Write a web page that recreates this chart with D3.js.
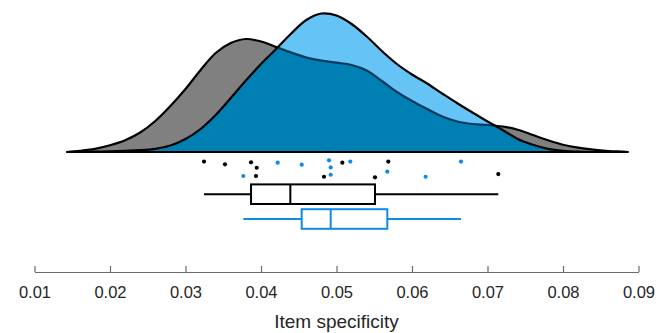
<!DOCTYPE html>
<html>
<head>
<meta charset="utf-8">
<script src="https://cdn.jsdelivr.net/npm/d3@7"></script>
<style>
	body { margin: 0; background: #fff; }
	svg { display: block; }
</style>
</head>
<body>
<svg id="chart"></svg>
<script>
// density grid (item specificity) and the two density curves
const gridGray = [0.0143, 0.016, 0.018, 0.020, 0.022, 0.024, 0.026, 0.028, 0.030, 0.032, 0.034, 0.036, 0.038, 0.040,
	0.042, 0.044, 0.046, 0.048, 0.050, 0.052, 0.054, 0.056, 0.058, 0.060, 0.062, 0.064, 0.066, 0.068, 0.070,
	0.072, 0.074, 0.076, 0.078, 0.080, 0.082, 0.084, 0.086, 0.088, 0.0886];
const densityGray = [0, 1.2, 3.2, 6.8, 11.8, 19.5, 31, 46, 63, 82, 99, 109, 113, 110.5,
	105, 99.5, 94.5, 91.3, 89.3, 87, 81.5, 71, 60, 51, 43, 35.5, 30.5, 28, 27,
	25.5, 22.3, 17, 11.8, 7.3, 4.3, 2.3, 1, 0.3, 0];

const gridBlue = [0.016, 0.018, 0.020, 0.022, 0.024, 0.026, 0.028, 0.030, 0.032, 0.034, 0.036, 0.038, 0.040,
	0.042, 0.044, 0.046, 0.048, 0.050, 0.052, 0.054, 0.056, 0.058, 0.060, 0.062, 0.064, 0.066, 0.068, 0.070,
	0.072, 0.074, 0.076, 0.078, 0.080, 0.082, 0.084];
const densityBlue = [0, 0.3, 0.7, 1.2, 1.8, 3.2, 6.5, 13, 23, 37, 54, 71.5, 88,
	103, 118.5, 132, 138.5, 136.5, 128, 115.5, 101, 88, 77.5, 68.5, 58.5, 48.7, 39.5, 30.5,
	22, 13, 7.2, 3.2, 1.2, 0.3, 0];

// raw points and their jitter (0..1 within the rain band)
const pointsGray = [0.03245, 0.03523, 0.03868, 0.03943, 0.03934, 0.04834, 0.05077, 0.0551, 0.05686, 0.07143];
const jitterGray = [0.09, 0.24, 0.13, 0.43, 0.89, 0.93, 0.15, 0.96, 0.09, 0.78];
const pointsBlue = [0.03766, 0.04221, 0.04539, 0.04901, 0.04923, 0.04923, 0.05183, 0.05673, 0.06181, 0.06649];
const jitterBlue = [0.89, 0.15, 0.26, 0.02, 0.41, 0.82, 0.09, 0.65, 0.93, 0.09];

const xTicks = [0.01, 0.02, 0.03, 0.04, 0.05, 0.06, 0.07, 0.08, 0.09];
const xLabel = "Item specificity";

const width = 672, height = 333;
const svg = d3.select("#chart").attr("width", width).attr("height", height);

let x = d3.scaleLinear().domain([0.01, 0.09]).range([34.5, 638.5]);
let y = d3.scaleLinear().domain([0, 140]).range([152, 12]);
let jitterY = d3.scaleLinear().domain([0, 1]).range([160, 178]);

let area = d3.area()
	.x(d => x(d[0]))
	.y0(y(0))
	.y1(d => y(d[1]))
	.curve(d3.curveCatmullRom.alpha(0.5));

let grayData = gridGray.map((g, i) => [g, densityGray[i]]);
let blueData = gridBlue.map((g, i) => [g, densityBlue[i]]);
let grayPath = area(grayData);
let bluePath = area(blueData);

let defs = svg.append("defs");
defs.append("clipPath").attr("id", "clipGray").append("path").attr("d", grayPath);
defs.append("clipPath").attr("id", "clipBlue").append("path").attr("d", bluePath);

// gray cloud
svg.append("path").attr("d", grayPath)
	.attr("fill", "#808080")
	.attr("stroke", "#000")
	.attr("stroke-width", 2.2)
	.attr("stroke-linejoin", "round");

// blue cloud, lighter where it is alone, darker over the gray one
svg.append("path").attr("d", bluePath).attr("fill", "#66C3F5");
svg.append("path").attr("d", bluePath).attr("fill", "#0080B2").attr("clip-path", "url(#clipGray)");
svg.append("path").attr("d", grayPath)
	.attr("fill", "none")
	.attr("stroke", "#003A5E")
	.attr("stroke-width", 2.2)
	.attr("clip-path", "url(#clipBlue)");
svg.append("path").attr("d", bluePath)
	.attr("fill", "none")
	.attr("stroke", "#000")
	.attr("stroke-width", 2.2)
	.attr("stroke-linejoin", "round");

// rain
svg.append("g").selectAll("circle")
	.data(pointsGray.map((v, i) => [v, jitterGray[i]]))
	.enter().append("circle")
	.attr("cx", d => x(d[0]))
	.attr("cy", d => jitterY(d[1]))
	.attr("r", 2.1)
	.attr("fill", "#000");
svg.append("g").selectAll("circle")
	.data(pointsBlue.map((v, i) => [v, jitterBlue[i]]))
	.enter().append("circle")
	.attr("cx", d => x(d[0]))
	.attr("cy", d => jitterY(d[1]))
	.attr("r", 2.1)
	.attr("fill", "#0C8CE9");

// boxplots, hinges = medians of lower / upper halves
function boxStats(vals) {
	let s = vals.slice().sort(d3.ascending);
	let half = Math.floor(s.length / 2);
	return {
		min: s[0],
		q1: d3.median(s.slice(0, half)),
		med: d3.median(s),
		q3: d3.median(s.slice(s.length - half)),
		max: s[s.length - 1]
	};
}

function drawBox(vals, cy, color) {
	let b = boxStats(vals);
	let g = svg.append("g").attr("stroke", color).attr("stroke-width", 2).attr("fill", "none");
	g.append("line").attr("x1", x(b.min)).attr("x2", x(b.q1)).attr("y1", cy).attr("y2", cy);
	g.append("line").attr("x1", x(b.q3)).attr("x2", x(b.max)).attr("y1", cy).attr("y2", cy);
	g.append("rect")
		.attr("x", x(b.q1)).attr("y", cy - 9.8)
		.attr("width", x(b.q3) - x(b.q1)).attr("height", 19.6);
	g.append("line").attr("x1", x(b.med)).attr("x2", x(b.med)).attr("y1", cy - 9.8).attr("y2", cy + 9.8);
}

drawBox(pointsGray, 194.2, "#000");
drawBox(pointsBlue, 219, "#0C8CE9");

// x axis, ticks pointing inward
let axisY = 272;
let axis = d3.axisBottom(x)
	.tickValues(xTicks)
	.tickFormat(d3.format(".2f"))
	.tickSizeInner(-6)
	.tickSizeOuter(0)
	.tickPadding(14);
let axisG = svg.append("g")
	.attr("transform", "translate(0," + axisY + ")")
	.call(axis);
axisG.select(".domain").attr("stroke", "#6b6b6b").attr("stroke-width", 1.2);
axisG.selectAll(".tick line").attr("stroke", "#6b6b6b").attr("stroke-width", 1.2);
axisG.selectAll(".tick text")
	.attr("fill", "#262626")
	.style("font-family", "Liberation Sans, Arial, sans-serif")
	.style("font-size", "16.5px");

svg.append("text")
	.attr("x", (x(0.01) + x(0.09)) / 2)
	.attr("y", 328)
	.attr("text-anchor", "middle")
	.attr("fill", "#262626")
	.style("font-family", "Liberation Sans, Arial, sans-serif")
	.style("font-size", "19px")
	.text(xLabel);
</script>
</body>
</html>
